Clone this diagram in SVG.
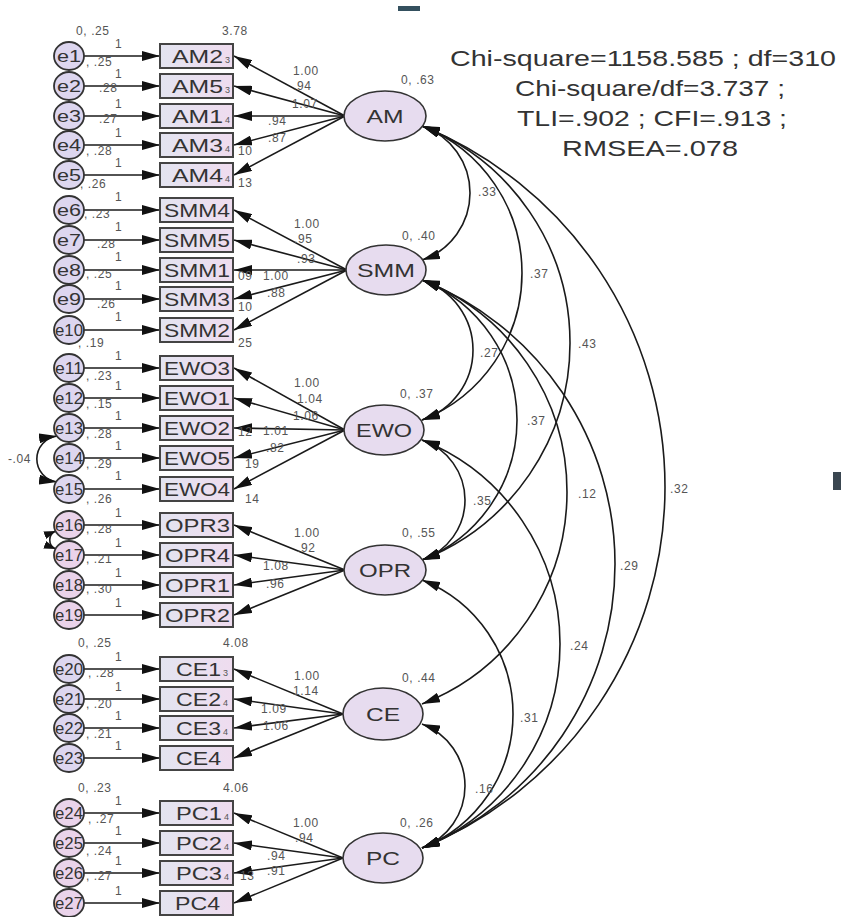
<svg xmlns="http://www.w3.org/2000/svg" width="841" height="917" viewBox="0 0 841 917">
<style>
text{font-family:"Liberation Sans",Arial,sans-serif}
.err ellipse{fill:#ddd6ef;stroke:#333;stroke-width:1.8}
.errp ellipse{fill:#ead3ea;stroke:#333;stroke-width:1.8}
.err text,.errp text{font-size:17px;fill:#333;text-anchor:middle}
.obs rect{fill:url(#boxg);stroke:#444;stroke-width:2}
.obs text{font-size:18px;fill:#333}
.obs .sub{font-size:9px;fill:#555}
.lat ellipse{fill:#e7dcef;stroke:#333;stroke-width:1.6}
.lat text{font-size:18px;fill:#333;text-anchor:middle}
.conn line,.conn path{stroke:#1a1a1a;stroke-width:1.6;fill:none}
.n{font-size:12px;fill:#555;letter-spacing:0.6px}
.fit{font-size:22px;fill:#333;text-anchor:middle}
</style>
<defs>
<linearGradient id="boxg" x1="0" y1="0" x2="1" y2="0">
<stop offset="0" stop-color="#e3e4f0"/><stop offset="1" stop-color="#efdcef"/>
</linearGradient>
<marker id="ah" viewBox="0 0 18 10" refX="18" refY="5" markerWidth="18" markerHeight="10" markerUnits="userSpaceOnUse" orient="auto-start-reverse">
<path d="M0,0 L18,5 L0,10 z" fill="#111"/>
</marker>
<marker id="ahs" viewBox="0 0 12 8" refX="12" refY="4" markerWidth="12" markerHeight="8" markerUnits="userSpaceOnUse" orient="auto-start-reverse">
<path d="M0,0 L12,4 L0,8 z" fill="#111"/>
</marker>
</defs>
<rect width="841" height="917" fill="#fff"/>
<rect x="398" y="6" width="22" height="5" fill="#34505e"/>
<rect x="833" y="472" width="8" height="18" fill="#3a4650"/>

<g id="connectors" class="conn">
<!-- error -> indicator -->
<line x1="84" y1="56" x2="160" y2="56" marker-end="url(#ah)"/>
<line x1="84" y1="86" x2="160" y2="86" marker-end="url(#ah)"/>
<line x1="84" y1="116" x2="160" y2="116" marker-end="url(#ah)"/>
<line x1="84" y1="145" x2="160" y2="145" marker-end="url(#ah)"/>
<line x1="84" y1="175" x2="160" y2="175" marker-end="url(#ah)"/>
<line x1="84" y1="210" x2="160" y2="210" marker-end="url(#ah)"/>
<line x1="84" y1="240" x2="160" y2="240" marker-end="url(#ah)"/>
<line x1="84" y1="270" x2="160" y2="270" marker-end="url(#ah)"/>
<line x1="84" y1="299" x2="160" y2="299" marker-end="url(#ah)"/>
<line x1="84" y1="330" x2="160" y2="330" marker-end="url(#ah)"/>
<line x1="84" y1="368" x2="160" y2="368" marker-end="url(#ah)"/>
<line x1="84" y1="398" x2="160" y2="398" marker-end="url(#ah)"/>
<line x1="84" y1="428" x2="160" y2="428" marker-end="url(#ah)"/>
<line x1="84" y1="458" x2="160" y2="458" marker-end="url(#ah)"/>
<line x1="84" y1="489" x2="160" y2="489" marker-end="url(#ah)"/>
<line x1="84" y1="525" x2="160" y2="525" marker-end="url(#ah)"/>
<line x1="84" y1="555" x2="160" y2="555" marker-end="url(#ah)"/>
<line x1="84" y1="585" x2="160" y2="585" marker-end="url(#ah)"/>
<line x1="84" y1="615" x2="160" y2="615" marker-end="url(#ah)"/>
<line x1="84" y1="669" x2="160" y2="669" marker-end="url(#ah)"/>
<line x1="84" y1="699" x2="160" y2="699" marker-end="url(#ah)"/>
<line x1="84" y1="728" x2="160" y2="728" marker-end="url(#ah)"/>
<line x1="84" y1="758" x2="160" y2="758" marker-end="url(#ah)"/>
<line x1="84" y1="813" x2="160" y2="813" marker-end="url(#ah)"/>
<line x1="84" y1="843" x2="160" y2="843" marker-end="url(#ah)"/>
<line x1="84" y1="873" x2="160" y2="873" marker-end="url(#ah)"/>
<line x1="84" y1="903" x2="160" y2="903" marker-end="url(#ah)"/>
<!-- loadings -->
<line x1="345" y1="116" x2="234" y2="56" marker-end="url(#ah)"/>
<line x1="345" y1="116" x2="234" y2="86" marker-end="url(#ah)"/>
<line x1="345" y1="116" x2="234" y2="116" marker-end="url(#ah)"/>
<line x1="345" y1="116" x2="234" y2="145" marker-end="url(#ah)"/>
<line x1="345" y1="116" x2="234" y2="175" marker-end="url(#ah)"/>
<line x1="347" y1="270" x2="234" y2="210" marker-end="url(#ah)"/>
<line x1="347" y1="270" x2="234" y2="240" marker-end="url(#ah)"/>
<line x1="347" y1="270" x2="234" y2="270" marker-end="url(#ah)"/>
<line x1="347" y1="270" x2="234" y2="299" marker-end="url(#ah)"/>
<line x1="347" y1="270" x2="234" y2="330" marker-end="url(#ah)"/>
<line x1="345" y1="430" x2="234" y2="368" marker-end="url(#ah)"/>
<line x1="345" y1="430" x2="234" y2="398" marker-end="url(#ah)"/>
<line x1="345" y1="430" x2="234" y2="428" marker-end="url(#ah)"/>
<line x1="345" y1="430" x2="234" y2="458" marker-end="url(#ah)"/>
<line x1="345" y1="430" x2="234" y2="489" marker-end="url(#ah)"/>
<line x1="345" y1="570" x2="234" y2="525" marker-end="url(#ah)"/>
<line x1="345" y1="570" x2="234" y2="555" marker-end="url(#ah)"/>
<line x1="345" y1="570" x2="234" y2="585" marker-end="url(#ah)"/>
<line x1="345" y1="570" x2="234" y2="615" marker-end="url(#ah)"/>
<line x1="343" y1="714" x2="234" y2="669" marker-end="url(#ah)"/>
<line x1="343" y1="714" x2="234" y2="699" marker-end="url(#ah)"/>
<line x1="343" y1="714" x2="234" y2="728" marker-end="url(#ah)"/>
<line x1="343" y1="714" x2="234" y2="758" marker-end="url(#ah)"/>
<line x1="343" y1="858" x2="234" y2="813" marker-end="url(#ah)"/>
<line x1="343" y1="858" x2="234" y2="843" marker-end="url(#ah)"/>
<line x1="343" y1="858" x2="234" y2="873" marker-end="url(#ah)"/>
<line x1="343" y1="858" x2="234" y2="903" marker-end="url(#ah)"/>
<!-- covariances between latents -->
<path d="M422 126 A70.76 70.76 0 0 1 422 260" marker-start="url(#ah)" marker-end="url(#ah)"/>
<path d="M422 280 A73.54 73.54 0 0 1 422 420" marker-start="url(#ah)" marker-end="url(#ah)"/>
<path d="M422 440 A63.36 63.36 0 0 1 422 560" marker-start="url(#ah)" marker-end="url(#ah)"/>
<path d="M422 724 A66.2 66.2 0 0 1 422 848" marker-start="url(#ah)" marker-end="url(#ah)"/>
<path d="M422 126 A158.05 158.05 0 0 1 422 420" marker-start="url(#ah)" marker-end="url(#ah)"/>
<path d="M422 280 A150.66 150.66 0 0 1 422 560" marker-start="url(#ah)" marker-end="url(#ah)"/>
<path d="M422 580 A144.16 144.16 0 0 1 422 848" marker-start="url(#ah)" marker-end="url(#ah)"/>
<path d="M422 126 A233.08 233.08 0 0 1 422 560" marker-start="url(#ah)" marker-end="url(#ah)"/>
<path d="M422 280 A227.48 227.48 0 0 1 422 704" marker-start="url(#ah)" marker-end="url(#ah)"/>
<path d="M422 440 A219.78 219.78 0 0 1 422 848" marker-start="url(#ah)" marker-end="url(#ah)"/>
<path d="M422 280 A305.45 305.45 0 0 1 422 848" marker-start="url(#ah)" marker-end="url(#ah)"/>
<path d="M422 126 A389.65 389.65 0 0 1 422 848" marker-start="url(#ah)" marker-end="url(#ah)"/>
<!-- error covariances -->
<path d="M57 436 A23.2 23.2 0 0 0 57 482" marker-start="url(#ah)" marker-end="url(#ah)"/>
<path d="M56 531 A9.6 9.6 0 0 0 56 549" marker-start="url(#ahs)" marker-end="url(#ahs)"/>
</g>

<g id="labels">
<text class="n" x="76" y="35">0, .25</text><text class="n" x="222" y="35">3.78</text>
<text class="n" x="115" y="48">1</text><text class="n" x="115" y="78">1</text><text class="n" x="115" y="108">1</text><text class="n" x="115" y="137">1</text><text class="n" x="115" y="167">1</text>
<text class="n" x="86" y="66">, .25</text><text class="n" x="99" y="92">.28</text><text class="n" x="99" y="123">.27</text><text class="n" x="86" y="155">, .28</text><text class="n" x="80" y="188">, .26</text>
<text class="n" x="293" y="75">1.00</text><text class="n" x="293" y="90">.94</text><text class="n" x="292" y="108">1.07</text><text class="n" x="268" y="125">.94</text><text class="n" x="268" y="142">.87</text><text class="n" x="238" y="155">10</text><text class="n" x="238" y="187">13</text>

<text class="n" x="115" y="201">1</text><text class="n" x="115" y="231">1</text><text class="n" x="115" y="261">1</text><text class="n" x="115" y="290">1</text><text class="n" x="115" y="321">1</text>
<text class="n" x="84" y="218">, .23</text><text class="n" x="97" y="248">.28</text><text class="n" x="86" y="278">, .25</text><text class="n" x="97" y="308">.26</text><text class="n" x="78" y="347">, .19</text>
<text class="n" x="294" y="228">1.00</text><text class="n" x="294" y="243">.95</text><text class="n" x="297" y="263">.93</text><text class="n" x="238" y="280">09</text><text class="n" x="263" y="280">1.00</text><text class="n" x="267" y="297">.88</text><text class="n" x="238" y="311">10</text><text class="n" x="238" y="347">25</text>

<text class="n" x="115" y="360">1</text><text class="n" x="115" y="390">1</text><text class="n" x="115" y="420">1</text><text class="n" x="115" y="450">1</text><text class="n" x="115" y="480">1</text>
<text class="n" x="86" y="380">, .23</text><text class="n" x="86" y="408">, .15</text><text class="n" x="86" y="438">, .28</text><text class="n" x="86" y="468">, .29</text><text class="n" x="86" y="503">, .26</text>
<text class="n" x="294" y="387">1.00</text><text class="n" x="297" y="403">1.04</text><text class="n" x="293" y="420">1.06</text><text class="n" x="238" y="436">12</text><text class="n" x="263" y="435">1.01</text><text class="n" x="266" y="452">.82</text><text class="n" x="245" y="468">19</text><text class="n" x="245" y="503">14</text>
<text class="n" x="8" y="463">-.04</text>

<text class="n" x="115" y="517">1</text><text class="n" x="115" y="547">1</text><text class="n" x="115" y="577">1</text><text class="n" x="115" y="607">1</text>
<text class="n" x="86" y="533">, .28</text><text class="n" x="86" y="563">, .21</text><text class="n" x="86" y="593">, .30</text>
<text class="n" x="294" y="537">1.00</text><text class="n" x="297" y="552">.92</text><text class="n" x="263" y="570">1.08</text><text class="n" x="266" y="588">.96</text>

<text class="n" x="78" y="647">0, .25</text><text class="n" x="223" y="647">4.08</text>
<text class="n" x="115" y="661">1</text><text class="n" x="115" y="691">1</text><text class="n" x="115" y="720">1</text><text class="n" x="115" y="750">1</text>
<text class="n" x="88" y="677">, .28</text><text class="n" x="86" y="708">, .20</text><text class="n" x="86" y="738">, .21</text>
<text class="n" x="294" y="680">1.00</text><text class="n" x="293" y="695">1.14</text><text class="n" x="261" y="713">1.09</text><text class="n" x="263" y="730">1.06</text>

<text class="n" x="78" y="792">0, .23</text><text class="n" x="223" y="792">4.06</text>
<text class="n" x="115" y="805">1</text><text class="n" x="115" y="835">1</text><text class="n" x="115" y="865">1</text><text class="n" x="115" y="895">1</text>
<text class="n" x="88" y="823">, .27</text><text class="n" x="86" y="855">, .24</text><text class="n" x="86" y="880">, .27</text>
<text class="n" x="293" y="827">1.00</text><text class="n" x="295" y="842">.94</text><text class="n" x="267" y="860">.94</text><text class="n" x="267" y="875">.91</text><text class="n" x="240" y="880">13</text>

<text class="n" x="401" y="84">0, .63</text><text class="n" x="402" y="240">0, .40</text><text class="n" x="400" y="398">0, .37</text><text class="n" x="402" y="537">0, .55</text><text class="n" x="402" y="682">0, .44</text><text class="n" x="400" y="827">0, .26</text>

<text class="n" x="478" y="196">.33</text><text class="n" x="530" y="278">.37</text><text class="n" x="578" y="348">.43</text><text class="n" x="480" y="357">.27</text><text class="n" x="527" y="425">.37</text><text class="n" x="473" y="505">.35</text><text class="n" x="578" y="498">.12</text><text class="n" x="670" y="493">.32</text><text class="n" x="620" y="570">.29</text><text class="n" x="570" y="650">.24</text><text class="n" x="520" y="722">.31</text><text class="n" x="475" y="793">.16</text>

<text class="fit" x="643" y="66" textLength="386" lengthAdjust="spacingAndGlyphs">Chi-square=1158.585 ; df=310</text>
<text class="fit" x="650" y="96" textLength="270" lengthAdjust="spacingAndGlyphs">Chi-square/df=3.737 ;</text>
<text class="fit" x="652" y="126" textLength="270" lengthAdjust="spacingAndGlyphs">TLI=.902 ; CFI=.913 ;</text>
<text class="fit" x="650" y="156" textLength="176" lengthAdjust="spacingAndGlyphs">RMSEA=.078</text>
</g>

<g id="e1" class="err"><ellipse cx="69" cy="56" rx="15" ry="14"/><text x="69" y="62" textLength="24" lengthAdjust="spacingAndGlyphs">e1</text></g>
<g id="e2" class="err"><ellipse cx="69" cy="86" rx="15" ry="14"/><text x="69" y="92" textLength="24" lengthAdjust="spacingAndGlyphs">e2</text></g>
<g id="e3" class="err"><ellipse cx="69" cy="116" rx="15" ry="14"/><text x="69" y="122" textLength="24" lengthAdjust="spacingAndGlyphs">e3</text></g>
<g id="e4" class="err"><ellipse cx="69" cy="145" rx="15" ry="14"/><text x="69" y="151" textLength="24" lengthAdjust="spacingAndGlyphs">e4</text></g>
<g id="e5" class="err"><ellipse cx="69" cy="175" rx="15" ry="14"/><text x="69" y="181" textLength="24" lengthAdjust="spacingAndGlyphs">e5</text></g>
<g id="e6" class="err"><ellipse cx="69" cy="210" rx="15" ry="14"/><text x="69" y="216" textLength="24" lengthAdjust="spacingAndGlyphs">e6</text></g>
<g id="e7" class="err"><ellipse cx="69" cy="240" rx="15" ry="14"/><text x="69" y="246" textLength="24" lengthAdjust="spacingAndGlyphs">e7</text></g>
<g id="e8" class="err"><ellipse cx="69" cy="270" rx="15" ry="14"/><text x="69" y="276" textLength="24" lengthAdjust="spacingAndGlyphs">e8</text></g>
<g id="e9" class="err"><ellipse cx="69" cy="299" rx="15" ry="14"/><text x="69" y="305" textLength="24" lengthAdjust="spacingAndGlyphs">e9</text></g>
<g id="e10" class="err"><ellipse cx="69" cy="330" rx="15" ry="14"/><text x="69" y="336" textLength="28" lengthAdjust="spacingAndGlyphs">e10</text></g>
<g id="e11" class="err"><ellipse cx="69" cy="368" rx="15" ry="14"/><text x="69" y="374" textLength="28" lengthAdjust="spacingAndGlyphs">e11</text></g>
<g id="e12" class="err"><ellipse cx="69" cy="398" rx="15" ry="14"/><text x="69" y="404" textLength="28" lengthAdjust="spacingAndGlyphs">e12</text></g>
<g id="e13" class="err"><ellipse cx="69" cy="428" rx="15" ry="14"/><text x="69" y="434" textLength="28" lengthAdjust="spacingAndGlyphs">e13</text></g>
<g id="e14" class="err"><ellipse cx="69" cy="458" rx="15" ry="14"/><text x="69" y="464" textLength="28" lengthAdjust="spacingAndGlyphs">e14</text></g>
<g id="e15" class="err"><ellipse cx="69" cy="489" rx="15" ry="14"/><text x="69" y="495" textLength="28" lengthAdjust="spacingAndGlyphs">e15</text></g>
<g id="e16" class="errp"><ellipse cx="69" cy="525" rx="15" ry="14"/><text x="69" y="531" textLength="28" lengthAdjust="spacingAndGlyphs">e16</text></g>
<g id="e17" class="errp"><ellipse cx="69" cy="555" rx="15" ry="14"/><text x="69" y="561" textLength="28" lengthAdjust="spacingAndGlyphs">e17</text></g>
<g id="e18" class="errp"><ellipse cx="69" cy="585" rx="15" ry="14"/><text x="69" y="591" textLength="28" lengthAdjust="spacingAndGlyphs">e18</text></g>
<g id="e19" class="errp"><ellipse cx="69" cy="615" rx="15" ry="14"/><text x="69" y="621" textLength="28" lengthAdjust="spacingAndGlyphs">e19</text></g>
<g id="e20" class="err"><ellipse cx="69" cy="669" rx="15" ry="14"/><text x="69" y="675" textLength="28" lengthAdjust="spacingAndGlyphs">e20</text></g>
<g id="e21" class="err"><ellipse cx="69" cy="699" rx="15" ry="14"/><text x="69" y="705" textLength="28" lengthAdjust="spacingAndGlyphs">e21</text></g>
<g id="e22" class="err"><ellipse cx="69" cy="728" rx="15" ry="14"/><text x="69" y="734" textLength="28" lengthAdjust="spacingAndGlyphs">e22</text></g>
<g id="e23" class="err"><ellipse cx="69" cy="758" rx="15" ry="14"/><text x="69" y="764" textLength="28" lengthAdjust="spacingAndGlyphs">e23</text></g>
<g id="e24" class="errp"><ellipse cx="69" cy="813" rx="15" ry="14"/><text x="69" y="819" textLength="28" lengthAdjust="spacingAndGlyphs">e24</text></g>
<g id="e25" class="errp"><ellipse cx="69" cy="843" rx="15" ry="14"/><text x="69" y="849" textLength="28" lengthAdjust="spacingAndGlyphs">e25</text></g>
<g id="e26" class="errp"><ellipse cx="69" cy="873" rx="15" ry="14"/><text x="69" y="879" textLength="28" lengthAdjust="spacingAndGlyphs">e26</text></g>
<g id="e27" class="errp"><ellipse cx="69" cy="903" rx="15" ry="14"/><text x="69" y="909" textLength="28" lengthAdjust="spacingAndGlyphs">e27</text></g>

<g id="AM2" class="obs"><rect x="160" y="44" width="73" height="24"/><text x="172" y="63" textLength="51" lengthAdjust="spacingAndGlyphs">AM2</text><text class="sub" x="225" y="63">3</text></g>
<g id="AM5" class="obs"><rect x="160" y="74" width="73" height="24"/><text x="172" y="93" textLength="51" lengthAdjust="spacingAndGlyphs">AM5</text><text class="sub" x="225" y="93">3</text></g>
<g id="AM1" class="obs"><rect x="160" y="104" width="73" height="24"/><text x="172" y="123" textLength="51" lengthAdjust="spacingAndGlyphs">AM1</text><text class="sub" x="225" y="123">4</text></g>
<g id="AM3" class="obs"><rect x="160" y="133" width="73" height="24"/><text x="172" y="152" textLength="51" lengthAdjust="spacingAndGlyphs">AM3</text><text class="sub" x="225" y="152">4</text></g>
<g id="AM4" class="obs"><rect x="160" y="163" width="73" height="24"/><text x="172" y="182" textLength="51" lengthAdjust="spacingAndGlyphs">AM4</text><text class="sub" x="225" y="182">4</text></g>
<g id="SMM4" class="obs"><rect x="160" y="198" width="73" height="24"/><text x="164" y="217" textLength="66" lengthAdjust="spacingAndGlyphs">SMM4</text></g>
<g id="SMM5" class="obs"><rect x="160" y="228" width="73" height="24"/><text x="164" y="247" textLength="66" lengthAdjust="spacingAndGlyphs">SMM5</text></g>
<g id="SMM1" class="obs"><rect x="160" y="258" width="73" height="24"/><text x="164" y="277" textLength="66" lengthAdjust="spacingAndGlyphs">SMM1</text></g>
<g id="SMM3" class="obs"><rect x="160" y="287" width="73" height="24"/><text x="164" y="306" textLength="66" lengthAdjust="spacingAndGlyphs">SMM3</text></g>
<g id="SMM2" class="obs"><rect x="160" y="318" width="73" height="24"/><text x="164" y="337" textLength="66" lengthAdjust="spacingAndGlyphs">SMM2</text></g>
<g id="EWO3" class="obs"><rect x="160" y="356" width="73" height="24"/><text x="164" y="375" textLength="66" lengthAdjust="spacingAndGlyphs">EWO3</text></g>
<g id="EWO1" class="obs"><rect x="160" y="386" width="73" height="24"/><text x="164" y="405" textLength="66" lengthAdjust="spacingAndGlyphs">EWO1</text></g>
<g id="EWO2" class="obs"><rect x="160" y="416" width="73" height="24"/><text x="164" y="435" textLength="66" lengthAdjust="spacingAndGlyphs">EWO2</text></g>
<g id="EWO5" class="obs"><rect x="160" y="446" width="73" height="24"/><text x="164" y="465" textLength="66" lengthAdjust="spacingAndGlyphs">EWO5</text></g>
<g id="EWO4" class="obs"><rect x="160" y="477" width="73" height="24"/><text x="164" y="496" textLength="66" lengthAdjust="spacingAndGlyphs">EWO4</text></g>
<g id="OPR3" class="obs"><rect x="160" y="513" width="73" height="24"/><text x="165" y="532" textLength="65" lengthAdjust="spacingAndGlyphs">OPR3</text></g>
<g id="OPR4" class="obs"><rect x="160" y="543" width="73" height="24"/><text x="165" y="562" textLength="65" lengthAdjust="spacingAndGlyphs">OPR4</text></g>
<g id="OPR1" class="obs"><rect x="160" y="573" width="73" height="24"/><text x="165" y="592" textLength="65" lengthAdjust="spacingAndGlyphs">OPR1</text></g>
<g id="OPR2" class="obs"><rect x="160" y="603" width="73" height="24"/><text x="165" y="622" textLength="65" lengthAdjust="spacingAndGlyphs">OPR2</text></g>
<g id="CE1" class="obs"><rect x="160" y="657" width="73" height="24"/><text x="176" y="676" textLength="45" lengthAdjust="spacingAndGlyphs">CE1</text><text class="sub" x="223" y="676">3</text></g>
<g id="CE2" class="obs"><rect x="160" y="687" width="73" height="24"/><text x="176" y="706" textLength="45" lengthAdjust="spacingAndGlyphs">CE2</text><text class="sub" x="223" y="706">4</text></g>
<g id="CE3" class="obs"><rect x="160" y="716" width="73" height="24"/><text x="176" y="735" textLength="45" lengthAdjust="spacingAndGlyphs">CE3</text><text class="sub" x="223" y="735">4</text></g>
<g id="CE4" class="obs"><rect x="160" y="746" width="73" height="24"/><text x="176" y="765" textLength="45" lengthAdjust="spacingAndGlyphs">CE4</text></g>
<g id="PC1" class="obs"><rect x="160" y="801" width="73" height="24"/><text x="176" y="820" textLength="46" lengthAdjust="spacingAndGlyphs">PC1</text><text class="sub" x="224" y="820">4</text></g>
<g id="PC2" class="obs"><rect x="160" y="831" width="73" height="24"/><text x="176" y="850" textLength="46" lengthAdjust="spacingAndGlyphs">PC2</text><text class="sub" x="224" y="850">4</text></g>
<g id="PC3" class="obs"><rect x="160" y="861" width="73" height="24"/><text x="176" y="880" textLength="46" lengthAdjust="spacingAndGlyphs">PC3</text><text class="sub" x="224" y="880">4</text></g>
<g id="PC4" class="obs"><rect x="160" y="891" width="73" height="24"/><text x="175" y="910" textLength="45" lengthAdjust="spacingAndGlyphs">PC4</text></g>

<g id="AM" class="lat"><ellipse cx="385" cy="116" rx="41" ry="25"/><text x="385" y="123" textLength="37" lengthAdjust="spacingAndGlyphs">AM</text></g>
<g id="SMM" class="lat"><ellipse cx="386" cy="270" rx="40" ry="25"/><text x="386" y="277" textLength="58" lengthAdjust="spacingAndGlyphs">SMM</text></g>
<g id="EWO" class="lat"><ellipse cx="384" cy="430" rx="40" ry="25"/><text x="384" y="437" textLength="56" lengthAdjust="spacingAndGlyphs">EWO</text></g>
<g id="OPR" class="lat"><ellipse cx="385" cy="570" rx="41" ry="25"/><text x="385" y="577" textLength="52" lengthAdjust="spacingAndGlyphs">OPR</text></g>
<g id="CE" class="lat"><ellipse cx="383" cy="714" rx="40" ry="26"/><text x="383" y="721" textLength="34" lengthAdjust="spacingAndGlyphs">CE</text></g>
<g id="PC" class="lat"><ellipse cx="383" cy="858" rx="40" ry="25"/><text x="383" y="865" textLength="34" lengthAdjust="spacingAndGlyphs">PC</text></g>
</svg>
